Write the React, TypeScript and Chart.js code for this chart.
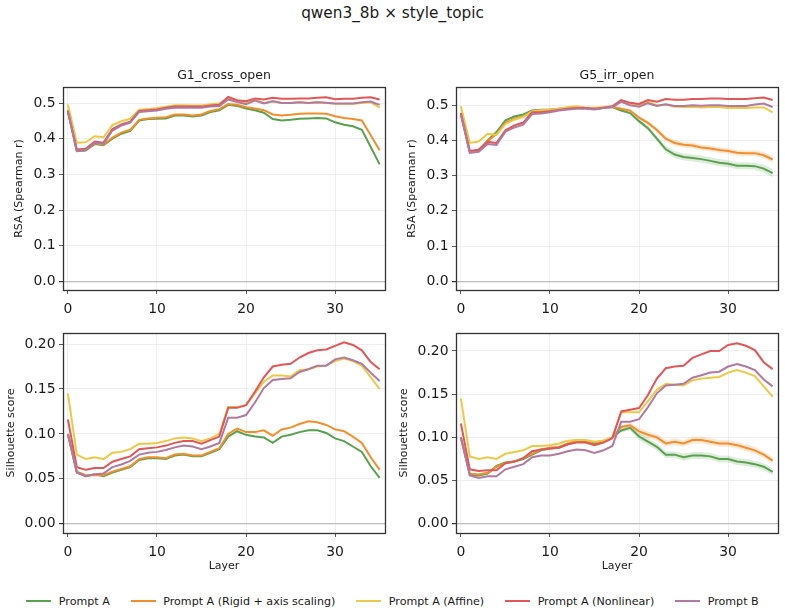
import React, { useEffect, useRef } from "react";
import { Chart, registerables } from "chart.js";

Chart.register(...registerables);

// ---------- data ----------
const layers = [0, 1, 2, 3, 4, 5, 6, 7, 8, 9, 10, 11, 12, 13, 14, 15, 16, 17, 18, 19, 20, 21, 22, 23, 24, 25, 26, 27, 28, 29, 30, 31, 32, 33, 34, 35];

const seriesNames = ["Prompt A", "Prompt A (Rigid + axis scaling)", "Prompt A (Affine)", "Prompt A (Nonlinear)", "Prompt B"];
const seriesColors = ["#59a14f", "#f28e2b", "#edc948", "#e15759", "#b07aa1"];
const bandColors = ["rgba(89,161,79,0.2)", "rgba(242,142,43,0.2)"];

const figureTitle = "qwen3_8b × style_topic";
const panelTitles = ["G1_cross_open", "G5_irr_open"];
const rsaLabel = "RSA (Spearman r)";
const silLabel = "Silhouette score";
const layerLabel = "Layer";

const xTicks = [0, 10, 20, 30];
const rsaTicks = [0, 0.1, 0.2, 0.3, 0.4, 0.5];
const silTicks = [0, 0.05, 0.1, 0.15, 0.2];

// G1_cross_open — RSA
const g1RsaA = [0.480, 0.365, 0.367, 0.385, 0.382, 0.400, 0.414, 0.422, 0.451, 0.455, 0.456, 0.457, 0.465, 0.465, 0.462, 0.465, 0.475, 0.480, 0.495, 0.492, 0.485, 0.480, 0.473, 0.455, 0.451, 0.453, 0.456, 0.457, 0.458, 0.457, 0.446, 0.439, 0.435, 0.425, 0.377, 0.328];
const g1RsaRigid = [0.480, 0.367, 0.369, 0.387, 0.384, 0.403, 0.417, 0.425, 0.453, 0.457, 0.459, 0.460, 0.468, 0.468, 0.465, 0.468, 0.478, 0.483, 0.497, 0.495, 0.488, 0.485, 0.480, 0.468, 0.465, 0.467, 0.470, 0.471, 0.471, 0.470, 0.463, 0.458, 0.455, 0.451, 0.410, 0.368];
const g1RsaAffine = [0.496, 0.389, 0.390, 0.407, 0.404, 0.438, 0.449, 0.456, 0.481, 0.483, 0.486, 0.490, 0.494, 0.494, 0.493, 0.493, 0.497, 0.499, 0.512, 0.505, 0.500, 0.510, 0.500, 0.505, 0.500, 0.500, 0.502, 0.500, 0.502, 0.500, 0.498, 0.498, 0.498, 0.500, 0.502, 0.487];
const g1RsaNonlin = [0.478, 0.370, 0.372, 0.392, 0.389, 0.427, 0.440, 0.448, 0.478, 0.480, 0.482, 0.487, 0.490, 0.490, 0.490, 0.490, 0.493, 0.495, 0.517, 0.508, 0.505, 0.513, 0.510, 0.515, 0.512, 0.512, 0.513, 0.513, 0.515, 0.516, 0.511, 0.512, 0.512, 0.515, 0.516, 0.510];
const g1RsaB = [0.475, 0.366, 0.368, 0.389, 0.386, 0.423, 0.437, 0.445, 0.475, 0.477, 0.479, 0.484, 0.487, 0.487, 0.487, 0.487, 0.490, 0.492, 0.510, 0.503, 0.497, 0.507, 0.499, 0.505, 0.500, 0.500, 0.502, 0.500, 0.502, 0.501, 0.499, 0.499, 0.499, 0.502, 0.504, 0.495];

// G5_irr_open — RSA
const g5RsaA = [0.476, 0.368, 0.372, 0.400, 0.424, 0.457, 0.468, 0.474, 0.485, 0.487, 0.488, 0.490, 0.492, 0.495, 0.492, 0.490, 0.492, 0.495, 0.485, 0.478, 0.455, 0.435, 0.405, 0.375, 0.360, 0.353, 0.350, 0.347, 0.342, 0.337, 0.334, 0.328, 0.328, 0.327, 0.320, 0.307];
const g5RsaRigid = [0.476, 0.368, 0.372, 0.398, 0.418, 0.450, 0.462, 0.468, 0.481, 0.485, 0.487, 0.490, 0.492, 0.495, 0.492, 0.490, 0.493, 0.496, 0.490, 0.485, 0.465, 0.450, 0.430, 0.405, 0.393, 0.388, 0.386, 0.380, 0.377, 0.373, 0.370, 0.365, 0.364, 0.364, 0.358, 0.346];
const g5RsaAffine = [0.497, 0.393, 0.397, 0.419, 0.416, 0.447, 0.459, 0.467, 0.483, 0.486, 0.488, 0.490, 0.495, 0.497, 0.493, 0.493, 0.495, 0.497, 0.513, 0.505, 0.500, 0.510, 0.500, 0.502, 0.496, 0.495, 0.496, 0.494, 0.495, 0.495, 0.492, 0.492, 0.492, 0.494, 0.494, 0.480];
const g5RsaNonlin = [0.478, 0.370, 0.374, 0.396, 0.393, 0.429, 0.443, 0.451, 0.480, 0.481, 0.483, 0.487, 0.490, 0.492, 0.492, 0.490, 0.493, 0.497, 0.515, 0.507, 0.504, 0.515, 0.510, 0.518, 0.516, 0.516, 0.518, 0.518, 0.519, 0.519, 0.518, 0.518, 0.518, 0.520, 0.522, 0.515];
const g5RsaB = [0.473, 0.365, 0.368, 0.390, 0.387, 0.425, 0.437, 0.445, 0.475, 0.477, 0.480, 0.485, 0.488, 0.490, 0.490, 0.488, 0.492, 0.495, 0.510, 0.500, 0.496, 0.506, 0.498, 0.503, 0.498, 0.498, 0.500, 0.499, 0.500, 0.500, 0.498, 0.498, 0.498, 0.502, 0.505, 0.495];
const g5RsaSpreadA = [0.002, 0.002, 0.002, 0.002, 0.002, 0.002, 0.002, 0.002, 0.002, 0.002, 0.002, 0.002, 0.002, 0.002, 0.002, 0.002, 0.002, 0.002, 0.003, 0.004, 0.006, 0.007, 0.008, 0.009, 0.010, 0.010, 0.010, 0.010, 0.010, 0.010, 0.010, 0.010, 0.010, 0.010, 0.011, 0.012];
const g5RsaSpreadRigid = [0.002, 0.002, 0.002, 0.002, 0.002, 0.002, 0.002, 0.002, 0.002, 0.002, 0.002, 0.002, 0.002, 0.002, 0.002, 0.002, 0.002, 0.002, 0.003, 0.004, 0.005, 0.006, 0.007, 0.008, 0.008, 0.008, 0.008, 0.008, 0.008, 0.008, 0.008, 0.008, 0.008, 0.008, 0.009, 0.010];

// G1_cross_open — Silhouette
const g1SilA = [0.100, 0.057, 0.053, 0.055, 0.053, 0.057, 0.060, 0.063, 0.071, 0.073, 0.073, 0.072, 0.076, 0.077, 0.075, 0.075, 0.079, 0.083, 0.097, 0.103, 0.099, 0.097, 0.096, 0.090, 0.097, 0.099, 0.102, 0.104, 0.104, 0.101, 0.095, 0.092, 0.086, 0.080, 0.064, 0.051];
const g1SilRigid = [0.100, 0.058, 0.054, 0.054, 0.054, 0.058, 0.061, 0.064, 0.072, 0.074, 0.074, 0.073, 0.077, 0.078, 0.076, 0.076, 0.080, 0.084, 0.100, 0.106, 0.102, 0.102, 0.104, 0.098, 0.105, 0.107, 0.111, 0.114, 0.113, 0.110, 0.105, 0.103, 0.097, 0.090, 0.074, 0.060];
const g1SilAffine = [0.145, 0.077, 0.072, 0.074, 0.072, 0.079, 0.080, 0.083, 0.089, 0.089, 0.090, 0.092, 0.095, 0.096, 0.095, 0.092, 0.095, 0.100, 0.130, 0.130, 0.132, 0.145, 0.158, 0.165, 0.165, 0.164, 0.171, 0.172, 0.175, 0.176, 0.181, 0.184, 0.181, 0.176, 0.163, 0.150];
const g1SilNonlin = [0.116, 0.063, 0.060, 0.062, 0.062, 0.069, 0.072, 0.075, 0.083, 0.084, 0.085, 0.087, 0.090, 0.092, 0.092, 0.089, 0.093, 0.097, 0.129, 0.129, 0.132, 0.147, 0.163, 0.175, 0.177, 0.178, 0.185, 0.190, 0.193, 0.194, 0.198, 0.202, 0.199, 0.193, 0.180, 0.172];
const g1SilB = [0.100, 0.057, 0.053, 0.055, 0.056, 0.063, 0.066, 0.070, 0.077, 0.079, 0.080, 0.082, 0.085, 0.087, 0.086, 0.083, 0.086, 0.090, 0.118, 0.118, 0.121, 0.135, 0.151, 0.160, 0.161, 0.162, 0.169, 0.172, 0.176, 0.176, 0.183, 0.185, 0.182, 0.178, 0.168, 0.159];

// G5_irr_open — Silhouette
const g5SilA = [0.100, 0.057, 0.056, 0.058, 0.067, 0.071, 0.072, 0.075, 0.080, 0.085, 0.087, 0.088, 0.092, 0.095, 0.095, 0.093, 0.095, 0.100, 0.108, 0.111, 0.101, 0.095, 0.089, 0.080, 0.080, 0.077, 0.079, 0.079, 0.078, 0.075, 0.075, 0.072, 0.071, 0.069, 0.066, 0.060];
const g5SilRigid = [0.100, 0.058, 0.057, 0.059, 0.066, 0.070, 0.072, 0.076, 0.081, 0.086, 0.088, 0.089, 0.093, 0.096, 0.096, 0.094, 0.096, 0.100, 0.112, 0.114, 0.107, 0.103, 0.100, 0.093, 0.095, 0.093, 0.097, 0.097, 0.095, 0.093, 0.093, 0.091, 0.088, 0.085, 0.080, 0.073];
const g5SilAffine = [0.145, 0.078, 0.075, 0.077, 0.075, 0.081, 0.083, 0.085, 0.090, 0.090, 0.091, 0.093, 0.096, 0.097, 0.097, 0.095, 0.096, 0.100, 0.129, 0.129, 0.129, 0.142, 0.155, 0.162, 0.161, 0.160, 0.166, 0.168, 0.169, 0.170, 0.175, 0.178, 0.175, 0.171, 0.159, 0.147];
const g5SilNonlin = [0.116, 0.063, 0.061, 0.062, 0.062, 0.070, 0.072, 0.076, 0.084, 0.086, 0.087, 0.088, 0.092, 0.094, 0.094, 0.091, 0.094, 0.099, 0.130, 0.132, 0.134, 0.149, 0.168, 0.180, 0.182, 0.183, 0.192, 0.196, 0.200, 0.200, 0.207, 0.209, 0.206, 0.201, 0.187, 0.179];
const g5SilB = [0.100, 0.056, 0.053, 0.055, 0.055, 0.063, 0.066, 0.069, 0.077, 0.079, 0.079, 0.081, 0.084, 0.086, 0.085, 0.082, 0.085, 0.090, 0.118, 0.118, 0.121, 0.135, 0.151, 0.160, 0.161, 0.162, 0.169, 0.172, 0.175, 0.176, 0.182, 0.185, 0.182, 0.178, 0.167, 0.159];
const g5SilSpreadA = [0.001, 0.001, 0.001, 0.001, 0.001, 0.001, 0.001, 0.001, 0.001, 0.001, 0.001, 0.001, 0.001, 0.001, 0.001, 0.001, 0.001, 0.001, 0.002, 0.003, 0.004, 0.004, 0.004, 0.004, 0.004, 0.004, 0.004, 0.004, 0.004, 0.004, 0.004, 0.004, 0.004, 0.004, 0.004, 0.004];
const g5SilSpreadRigid = [0.001, 0.001, 0.001, 0.001, 0.001, 0.001, 0.001, 0.001, 0.001, 0.001, 0.001, 0.001, 0.001, 0.001, 0.001, 0.001, 0.001, 0.001, 0.002, 0.003, 0.004, 0.004, 0.004, 0.004, 0.004, 0.004, 0.004, 0.004, 0.004, 0.004, 0.004, 0.004, 0.004, 0.004, 0.004, 0.004];

// ---------- chart helpers ----------
const FONT = "'DejaVu Sans', sans-serif";

const framePlugin = {
  id: "frame",
  afterDatasetsDraw(chart: any) {
    const { ctx, chartArea } = chart;
    ctx.save();
    ctx.strokeStyle = "#333333";
    ctx.lineWidth = 1.3;
    ctx.strokeRect(
      Math.round(chartArea.left) + 0.5,
      Math.round(chartArea.top) + 0.5,
      Math.round(chartArea.right - chartArea.left),
      Math.round(chartArea.bottom - chartArea.top)
    );
    ctx.restore();
  },
};

type PanelProps = {
  left: number;
  top: number;
  width: number;
  height: number;
  title?: string;
  series: number[][];
  bands?: { mean: number[]; spread: number[]; color: string }[];
  yTicks: number[];
  yMin: number;
  yMax: number;
  yDecimals: number;
  yLabel: string;
  yTitlePad: number;
  xLabel?: string;
  xHeight: number;
  padTop: number;
};

function Panel(p: PanelProps) {
  const ref = useRef<HTMLCanvasElement | null>(null);
  useEffect(() => {
    if (!ref.current) return;
    const datasets: any[] = [];
    (p.bands || []).forEach((b) => {
      datasets.push({
        data: layers.map((x, i) => ({ x, y: b.mean[i] - b.spread[i] })),
        borderWidth: 0,
        pointRadius: 0,
        fill: false,
        order: 20,
      });
      datasets.push({
        data: layers.map((x, i) => ({ x, y: b.mean[i] + b.spread[i] })),
        borderWidth: 0,
        pointRadius: 0,
        backgroundColor: b.color,
        fill: "-1",
        order: 20,
      });
    });
    p.series.forEach((vals, si) => {
      datasets.push({
        label: seriesNames[si],
        data: layers.map((x, i) => ({ x, y: vals[i] })),
        borderColor: seriesColors[si],
        borderWidth: 2,
        pointRadius: 0,
        fill: false,
        tension: 0,
        order: 10 - si,
      });
    });

    const chart = new Chart(ref.current, {
      type: "line",
      data: { datasets },
      plugins: [framePlugin],
      options: {
        animation: false,
        responsive: false,
        devicePixelRatio: 1,
        layout: { padding: { left: 0, right: 7, top: p.padTop, bottom: 0 } },
        plugins: {
          legend: { display: false },
          tooltip: { enabled: false },
          title: {
            display: !!p.title,
            text: p.title || "",
            fullSize: false,
            color: "#1a1a1a",
            font: { family: FONT, size: 12.5, weight: "normal" },
            padding: { top: 0, bottom: 4 },
          },
        },
        scales: {
          x: {
            type: "linear",
            min: -0.55,
            max: 35.6,
            afterBuildTicks: (s: any) => {
              s.ticks = xTicks.map((v) => ({ value: v }));
            },
            afterFit: (s: any) => {
              s.height = p.xHeight;
            },
            ticks: {
              color: "#1a1a1a",
              font: { family: FONT, size: 13.9 },
              padding: 7,
              maxRotation: 0,
              autoSkip: false,
              callback: (v: any) => String(v),
            },
            grid: {
              color: "#ebebeb",
              lineWidth: 0.8,
              tickColor: "#333333",
              tickLength: 4,
              drawTicks: true,
            },
            border: { display: false },
            title: {
              display: !!p.xLabel,
              text: p.xLabel || "",
              color: "#1a1a1a",
              font: { family: FONT, size: 11 },
              padding: { top: 0, bottom: 0 },
            },
          },
          y: {
            type: "linear",
            min: p.yMin,
            max: p.yMax,
            afterBuildTicks: (s: any) => {
              s.ticks = p.yTicks.map((v) => ({ value: v }));
            },
            afterFit: (s: any) => {
              s.width = 63;
            },
            ticks: {
              color: "#1a1a1a",
              font: { family: FONT, size: 13.9 },
              padding: 3.5,
              autoSkip: false,
              callback: (v: any) => Number(v).toFixed(p.yDecimals),
            },
            grid: {
              color: (c: any) => (c.tick && Math.abs(c.tick.value) < 1e-9 ? "#bdbdbd" : "#ebebeb"),
              lineWidth: (c: any) => (c.tick && Math.abs(c.tick.value) < 1e-9 ? 1.2 : 0.8),
              tickColor: "#333333",
              tickLength: 4,
              drawTicks: true,
            },
            border: { display: false },
            title: {
              display: true,
              text: p.yLabel,
              color: "#1a1a1a",
              font: { family: FONT, size: 11 },
              padding: { top: p.yTitlePad, bottom: 0 },
            },
          },
        },
      } as any,
    });
    return () => chart.destroy();
  }, []);
  return (
    <canvas
      ref={ref}
      width={p.width}
      height={p.height}
      style={{ position: "absolute", left: p.left, top: p.top, width: p.width, height: p.height }}
    />
  );
}

export default function App() {
  return (
    <div style={{ position: "absolute", left: 0, top: 0, width: 785, height: 614, background: "#ffffff", fontFamily: FONT }}>
      <div
        style={{
          position: "absolute",
          left: 0,
          top: 3,
          width: 785,
          textAlign: "center",
          fontSize: 15.3,
          lineHeight: "20px",
          color: "#1a1a1a",
        }}
      >
        {figureTitle}
      </div>

      <Panel
        left={0}
        top={68}
        width={392}
        height={251}
        title={panelTitles[0]}
        series={[g1RsaA, g1RsaRigid, g1RsaAffine, g1RsaNonlin, g1RsaB]}
        yTicks={rsaTicks}
        yMin={-0.024}
        yMax={0.545}
        yDecimals={1}
        yLabel={rsaLabel}
        yTitlePad={13}
        xHeight={29}
        padTop={0}
      />
      <Panel
        left={393}
        top={68}
        width={392}
        height={251}
        title={panelTitles[1]}
        series={[g5RsaA, g5RsaRigid, g5RsaAffine, g5RsaNonlin, g5RsaB]}
        bands={[
          { mean: g5RsaA, spread: g5RsaSpreadA, color: bandColors[0] },
          { mean: g5RsaRigid, spread: g5RsaSpreadRigid, color: bandColors[1] },
        ]}
        yTicks={rsaTicks}
        yMin={-0.025}
        yMax={0.552}
        yDecimals={1}
        yLabel={rsaLabel}
        yTitlePad={13}
        xHeight={29}
        padTop={0}
      />
      <Panel
        left={0}
        top={321}
        width={392}
        height={252}
        series={[g1SilA, g1SilRigid, g1SilAffine, g1SilNonlin, g1SilB]}
        yTicks={silTicks}
        yMin={-0.0103}
        yMax={0.2125}
        yDecimals={2}
        yLabel={silLabel}
        yTitlePad={4.5}
        xLabel={layerLabel}
        xHeight={40}
        padTop={8}
      />
      <Panel
        left={393}
        top={321}
        width={392}
        height={252}
        series={[g5SilA, g5SilRigid, g5SilAffine, g5SilNonlin, g5SilB]}
        bands={[
          { mean: g5SilA, spread: g5SilSpreadA, color: bandColors[0] },
          { mean: g5SilRigid, spread: g5SilSpreadRigid, color: bandColors[1] },
        ]}
        yTicks={silTicks}
        yMin={-0.0107}
        yMax={0.221}
        yDecimals={2}
        yLabel={silLabel}
        yTitlePad={4.5}
        xLabel={layerLabel}
        xHeight={40}
        padTop={8}
      />

      <div
        style={{
          position: "absolute",
          left: 0,
          top: 592,
          width: 785,
          height: 18,
          display: "flex",
          justifyContent: "center",
          alignItems: "center",
          gap: 21,
          fontSize: 11.1,
          color: "#1a1a1a",
        }}
      >
        {seriesNames.map((n, i) => (
          <div key={n} style={{ display: "flex", alignItems: "center" }}>
            <span style={{ display: "inline-block", width: 25, height: 2, background: seriesColors[i], marginRight: 7.5 }} />
            <span>{n}</span>
          </div>
        ))}
      </div>
    </div>
  );
}
